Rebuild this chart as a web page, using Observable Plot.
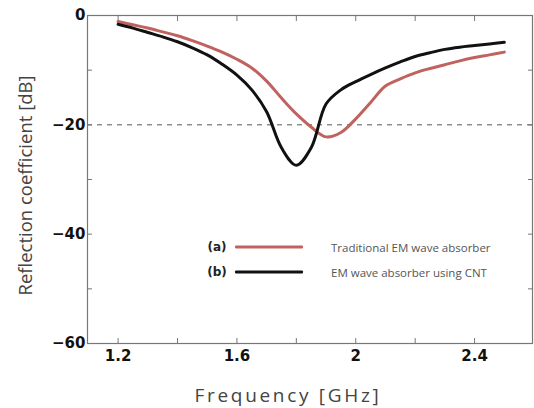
<!DOCTYPE html>
<html>
<head>
<meta charset="utf-8">
<script src="https://cdn.jsdelivr.net/npm/d3@7"></script>
<script src="https://cdn.jsdelivr.net/npm/@observablehq/plot@0.6"></script>
<style>
  html, body { margin: 0; padding: 0; background: #fff; }
  #wrap { position: relative; width: 534px; height: 408px; }
  #legend { position: absolute; left: 0; top: 0; width: 534px; height: 408px; pointer-events: none; }
  .lg-tag { position: absolute; font: bold 12px "DejaVu Sans", sans-serif; color: #222; transform: translate(-50%, -50%); }
  .lg-line { position: absolute; height: 3px; transform: translateY(-50%); border-radius: 1px; }
  .lg-text { position: absolute; font: 11.5px "Open Sans", sans-serif; color: #555; transform: translateY(-50%); white-space: nowrap; }
</style>
</head>
<body>
<div id="wrap"></div>
<script>
// Frequency samples (GHz)
const freq = [1.2, 1.25, 1.3, 1.35, 1.4, 1.45, 1.5, 1.55, 1.6, 1.65, 1.7, 1.75, 1.8, 1.85, 1.9, 1.95, 2.0, 2.05, 2.1, 2.15, 2.2, 2.25, 2.3, 2.35, 2.4, 2.45, 2.5];
// (a) Traditional EM wave absorber (dB)
const traditional = [-1.1, -1.7, -2.3, -3.0, -3.7, -4.6, -5.6, -6.7, -8.0, -9.6, -12.0, -15.1, -18.0, -20.4, -22.2, -21.4, -18.9, -15.9, -12.9, -11.6, -10.5, -9.7, -9.0, -8.3, -7.7, -7.2, -6.7];
// (b) EM wave absorber using CNT (dB)
const cnt = [-1.6, -2.3, -3.1, -3.9, -4.8, -5.9, -7.2, -8.9, -10.9, -13.6, -17.6, -24.2, -27.4, -24.2, -16.2, -13.6, -12.1, -10.8, -9.6, -8.5, -7.5, -6.8, -6.2, -5.8, -5.5, -5.2, -4.9];

const seriesNames = ["(a)", "(b)"];
const seriesLabels = ["Traditional EM wave absorber", "EM wave absorber using CNT"];
const seriesColors = ["#c0625f", "#111111"];

const xMajorTicks = [1.2, 1.6, 2.0, 2.4];
const xMinorTicks = [1.2, 1.4, 1.6, 1.8, 2.0, 2.2, 2.4];
const yMajorTicks = [0, -20, -40, -60];
const yMinorTicks = [0, -10, -20, -30, -40, -50, -60];
const threshold = [-20];

const rows = [];
freq.forEach((f, i) => {
  rows.push({f, v: traditional[i], s: seriesNames[0]});
  rows.push({f, v: cnt[i], s: seriesNames[1]});
});

const fmtY = d => d < 0 ? "\u2212" + Math.abs(d) : String(d);
const fmtX = d => String(d);

const chart = Plot.plot({
  width: 534,
  height: 408,
  marginLeft: 87,
  marginRight: 2,
  marginTop: 15,
  marginBottom: 65,
  style: {fontFamily: "DejaVu Sans, sans-serif", background: "white", color: "#111"},
  x: {domain: [1.097, 2.595]},
  y: {domain: [-60, 0]},
  color: {domain: seriesNames, range: seriesColors},
  marks: [
    Plot.ruleY(threshold, {stroke: "#555", strokeDasharray: "5,5", strokeWidth: 1}),
    Plot.axisX({ticks: xMinorTicks, anchor: "bottom", tickSize: -5, tickFormat: () => "", stroke: "#777", label: null}),
    Plot.axisX({ticks: xMinorTicks, anchor: "top", tickSize: -5, tickFormat: () => "", stroke: "#777", label: null}),
    Plot.axisY({ticks: yMinorTicks, anchor: "left", tickSize: -5, tickFormat: () => "", stroke: "#777", label: null}),
    Plot.axisY({ticks: yMinorTicks, anchor: "right", tickSize: -5, tickFormat: () => "", stroke: "#777", label: null}),
    Plot.axisX({ticks: xMajorTicks, anchor: "bottom", tickSize: 0, tickPadding: 7, tickFormat: fmtX, fontSize: 15, fontWeight: "bold", fill: "#111", label: null}),
    Plot.axisY({ticks: yMajorTicks, anchor: "left", tickSize: 0, tickPadding: 2, tickFormat: fmtY, fontSize: 15, fontWeight: "bold", fill: "#111", label: null}),
    Plot.frame({stroke: "#777", strokeWidth: 1.2}),
    Plot.line(rows, {
      x: "f", y: "v", z: "s",
      stroke: "s",
      strokeWidth: 3,
      curve: "catmull-rom"
    }),
    Plot.text(["Frequency [GHz]"], {frameAnchor: "bottom", textAnchor: "middle", dx: -22, dy: 52, fontSize: 19, fill: "#444", fontFamily: "Open Sans, sans-serif", lineAnchor: "middle", text: d => d}),
    Plot.text(["Reflection coefficient [dB]"], {frameAnchor: "left", textAnchor: "middle", dx: -61, dy: 6, rotate: -90, fontSize: 18.5, fill: "#444", fontFamily: "Open Sans, sans-serif", lineAnchor: "middle", text: d => d})
  ]
});

// widen letter spacing of the x-axis title as in the reference
d3.select(chart).selectAll("text").filter(function() { return this.textContent === "Frequency [GHz]"; })
  .attr("letter-spacing", "2.7px");

document.getElementById("wrap").appendChild(chart);

// Legend overlay (inside plot area)
const legend = document.createElement("div");
legend.id = "legend";
const legendY = [247, 272];
seriesNames.forEach((name, i) => {
  const tag = document.createElement("div");
  tag.className = "lg-tag";
  tag.style.left = "217px"; tag.style.top = legendY[i] + "px";
  tag.textContent = name;
  const line = document.createElement("div");
  line.className = "lg-line";
  line.style.left = "235px"; line.style.width = "68px"; line.style.top = legendY[i] + "px";
  line.style.background = seriesColors[i];
  const txt = document.createElement("div");
  txt.className = "lg-text";
  txt.style.left = "331px"; txt.style.top = legendY[i] + "px";
  txt.textContent = seriesLabels[i];
  legend.append(tag, line, txt);
});
document.getElementById("wrap").appendChild(legend);
</script>
</body>
</html>
